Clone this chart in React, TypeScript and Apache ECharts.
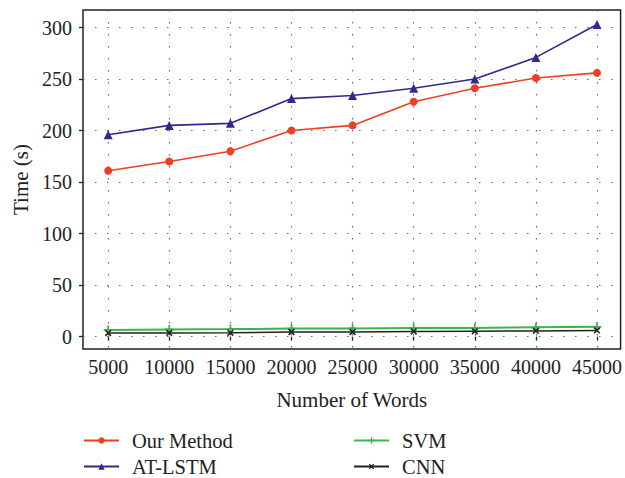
import React, { useEffect, useRef } from "react";
import * as echarts from "echarts";

const words = [5000, 10000, 15000, 20000, 25000, 30000, 35000, 40000, 45000];
const ourMethod = [161, 170, 180, 200, 205, 228, 241, 251, 256];
const atLstm = [196, 205, 207, 231, 234, 241, 250, 271, 303];
const svm = [6.5, 7, 7.3, 7.8, 8, 8.3, 8.5, 9, 9.5];
const cnn = [3.5, 3.6, 3.7, 4.5, 4.5, 5, 5.2, 5.5, 6];
const yTicks = [0, 50, 100, 150, 200, 250, 300];

const FONT = "Liberation Serif";
const PLUS = "path://M4,0H6V4H10V6H6V10H4V6H0V4H4Z";

export default function App() {
  const ref = useRef<HTMLDivElement>(null);
  useEffect(() => {
    if (!ref.current) return;
    const chart = echarts.init(ref.current, null, { renderer: "svg" });
    const pair = (ys: number[]) => words.map((x, i) => [x, ys[i]]);
    const grid = { type: [1.5, 10.5], color: "#666", width: 1.2 };
    const legendText = { fontFamily: FONT, fontSize: 20.5, color: "#222", lineHeight: 20, padding: [0, 0, 0, 8] };
    const leg = (name: string, left: number, top: number) => ({
      left,
      top,
      padding: 0,
      itemWidth: 35,
      itemHeight: 8,
      data: [name],
      textStyle: legendText,
    });
    chart.setOption({
      animation: false,
      backgroundColor: "#fff",
      textStyle: { fontFamily: FONT },
      grid: {
        left: 83,
        top: 10,
        width: 539,
        height: 339,
        show: true,
        borderColor: "#222",
        borderWidth: 1.5,
        containLabel: false,
      },
      xAxis: {
        type: "value",
        min: 2940,
        max: 46930,
        name: "Number of Words",
        nameLocation: "middle",
        nameGap: 40,
        nameTextStyle: { fontFamily: FONT, fontSize: 21, color: "#222" },
        axisLine: { show: false },
        axisTick: { show: true, length: 4, inside: false, customValues: words, lineStyle: { color: "#222", width: 1.3 } },
        axisLabel: {
          customValues: words,
          formatter: (v: number) => String(v),
          fontFamily: FONT,
          fontSize: 20,
          color: "#222",
          margin: 8,
        },
        splitLine: { show: true, lineStyle: grid },
      },
      yAxis: {
        type: "value",
        min: -12,
        max: 317,
        name: "Time (s)",
        nameLocation: "middle",
        nameGap: 50,
        nameTextStyle: { fontFamily: FONT, fontSize: 21, color: "#222" },
        axisLine: { show: false },
        axisTick: { show: true, length: 4, inside: false, customValues: yTicks, lineStyle: { color: "#222", width: 1.3 } },
        axisLabel: { customValues: yTicks, fontFamily: FONT, fontSize: 20, color: "#222", margin: 11 },
        splitLine: { show: true, lineStyle: grid },
      },
      legend: [
        leg("Our Method", 83, 430),
        leg("AT-LSTM", 83, 456),
        leg("SVM", 353, 430),
        leg("CNN", 353, 456),
      ],
      series: [
        {
          name: "Our Method",
          type: "line",
          data: pair(ourMethod),
          symbol: "circle",
          symbolSize: 8,
          color: "#ee3f24",
          lineStyle: { width: 1.6, color: "#ee3f24" },
          itemStyle: { color: "#ee3f24" },
          z: 4,
        },
        {
          name: "AT-LSTM",
          type: "line",
          data: pair(atLstm),
          symbol: "triangle",
          symbolSize: 9,
          color: "#2f2a8e",
          lineStyle: { width: 1.6, color: "#2f2a8e" },
          itemStyle: { color: "#2f2a8e" },
          z: 4,
        },
        {
          name: "SVM",
          type: "line",
          data: pair(svm),
          symbol: PLUS,
          symbolSize: 9,
          color: "#3cb54a",
          lineStyle: { width: 2, color: "#3cb54a" },
          itemStyle: { color: "#3cb54a" },
          z: 3,
        },
        {
          name: "CNN",
          type: "line",
          data: pair(cnn),
          symbol: PLUS,
          symbolSize: 8,
          symbolRotate: 45,
          color: "#222",
          lineStyle: { width: 1.5, color: "#222" },
          itemStyle: { color: "#222" },
          z: 3,
        },
      ],
    });
    return () => chart.dispose();
  }, []);
  return <div ref={ref} style={{ width: 625, height: 478, position: "absolute", left: 0, top: 0 }} />;
}
